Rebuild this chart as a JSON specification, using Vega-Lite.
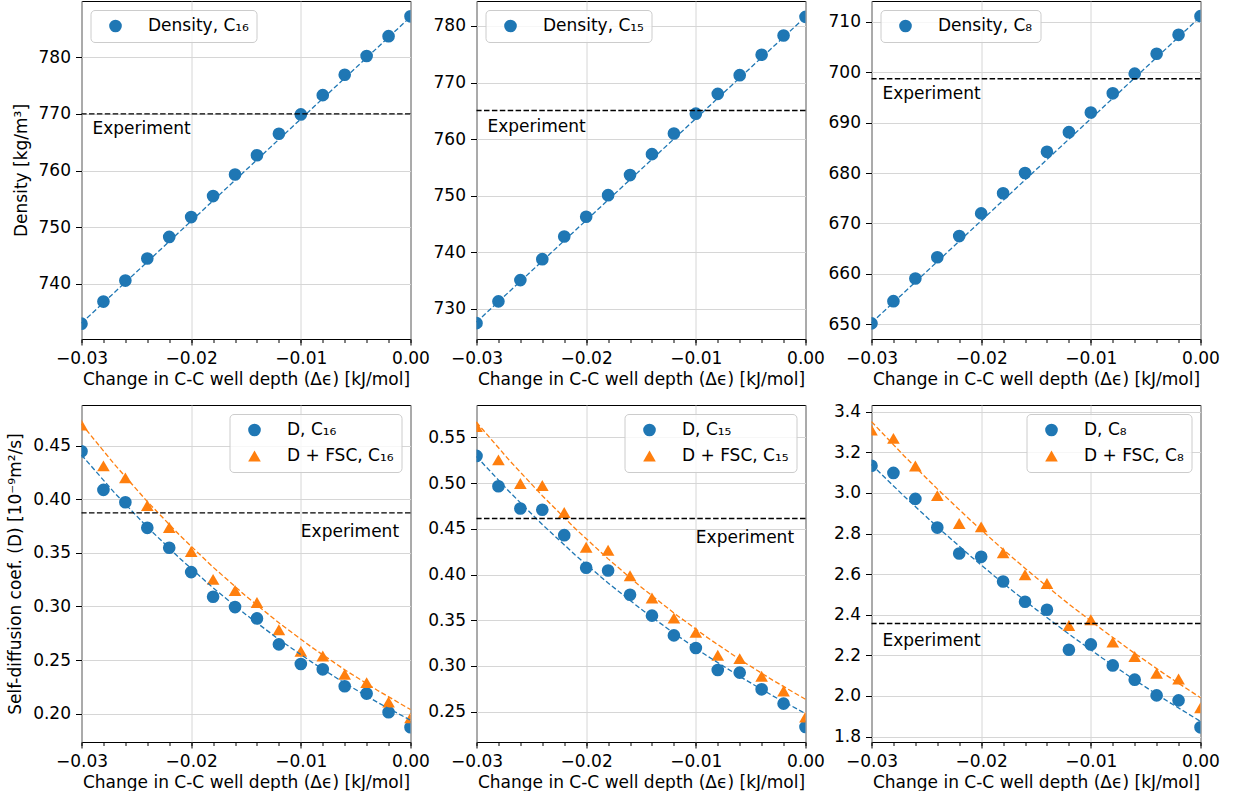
{
  "$schema": "https://vega.github.io/schema/vega-lite/v6.json",
  "padding": {"left": 5.5, "top": 0, "right": 0, "bottom": 0},
  "background": "white",
  "config": {
    "font": "DejaVu Sans",
    "view": {"stroke": "black", "strokeWidth": 1},
    "axis": {
      "labelFont": "DejaVu Sans", "labelFontSize": 17, "labelColor": "black",
      "titleFont": "DejaVu Sans", "titleFontSize": 17, "titleFontWeight": "normal", "titleColor": "black",
      "tickColor": "black", "tickWidth": 1, "tickSize": 6, "labelPadding": 5,
      "domain": false, "gridColor": "#d6d6d6", "gridWidth": 1, "labelFlush": false, "labelOverlap": false
    },
    "axisX": {"titlePadding": 5},
    "axisY": {"titlePadding": 8},
    "legend": {
      "title": null, "labelFont": "DejaVu Sans", "labelFontSize": 17, "labelColor": "black",
      "padding": 7.5, "offset": 9, "strokeColor": "#cccccc", "fillColor": "rgba(255,255,255,0.8)",
      "cornerRadius": 4, "symbolOffset": 9, "labelOffset": 24, "rowPadding": 8,
      "symbolSize": 160, "symbolStrokeWidth": 0
    },
    "text": {"font": "DejaVu Sans"}
  },
  "datasets": {
    "pts": [
      {"p":"a","x":-0.030,"y":733.0,"s":"Density, C₁₆"},{"p":"a","x":-0.028,"y":736.9,"s":"Density, C₁₆"},{"p":"a","x":-0.026,"y":740.6,"s":"Density, C₁₆"},{"p":"a","x":-0.024,"y":744.5,"s":"Density, C₁₆"},{"p":"a","x":-0.022,"y":748.3,"s":"Density, C₁₆"},{"p":"a","x":-0.020,"y":751.8,"s":"Density, C₁₆"},{"p":"a","x":-0.018,"y":755.5,"s":"Density, C₁₆"},{"p":"a","x":-0.016,"y":759.3,"s":"Density, C₁₆"},{"p":"a","x":-0.014,"y":762.7,"s":"Density, C₁₆"},{"p":"a","x":-0.012,"y":766.5,"s":"Density, C₁₆"},{"p":"a","x":-0.010,"y":769.9,"s":"Density, C₁₆"},{"p":"a","x":-0.008,"y":773.3,"s":"Density, C₁₆"},{"p":"a","x":-0.006,"y":776.9,"s":"Density, C₁₆"},{"p":"a","x":-0.004,"y":780.2,"s":"Density, C₁₆"},{"p":"a","x":-0.002,"y":783.7,"s":"Density, C₁₆"},{"p":"a","x":0.0,"y":787.2,"s":"Density, C₁₆"},
      {"p":"b","x":-0.030,"y":727.5,"s":"Density, C₁₅"},{"p":"b","x":-0.028,"y":731.35,"s":"Density, C₁₅"},{"p":"b","x":-0.026,"y":735.1,"s":"Density, C₁₅"},{"p":"b","x":-0.024,"y":738.8,"s":"Density, C₁₅"},{"p":"b","x":-0.022,"y":742.8,"s":"Density, C₁₅"},{"p":"b","x":-0.020,"y":746.3,"s":"Density, C₁₅"},{"p":"b","x":-0.018,"y":750.1,"s":"Density, C₁₅"},{"p":"b","x":-0.016,"y":753.65,"s":"Density, C₁₅"},{"p":"b","x":-0.014,"y":757.35,"s":"Density, C₁₅"},{"p":"b","x":-0.012,"y":761.0,"s":"Density, C₁₅"},{"p":"b","x":-0.010,"y":764.5,"s":"Density, C₁₅"},{"p":"b","x":-0.008,"y":768.0,"s":"Density, C₁₅"},{"p":"b","x":-0.006,"y":771.3,"s":"Density, C₁₅"},{"p":"b","x":-0.004,"y":774.9,"s":"Density, C₁₅"},{"p":"b","x":-0.002,"y":778.3,"s":"Density, C₁₅"},{"p":"b","x":0.0,"y":781.6,"s":"Density, C₁₅"},
      {"p":"c","x":-0.030,"y":650.2,"s":"Density, C₈"},{"p":"c","x":-0.028,"y":654.6,"s":"Density, C₈"},{"p":"c","x":-0.026,"y":659.1,"s":"Density, C₈"},{"p":"c","x":-0.024,"y":663.3,"s":"Density, C₈"},{"p":"c","x":-0.022,"y":667.5,"s":"Density, C₈"},{"p":"c","x":-0.020,"y":672.0,"s":"Density, C₈"},{"p":"c","x":-0.018,"y":676.0,"s":"Density, C₈"},{"p":"c","x":-0.016,"y":680.0,"s":"Density, C₈"},{"p":"c","x":-0.014,"y":684.2,"s":"Density, C₈"},{"p":"c","x":-0.012,"y":688.1,"s":"Density, C₈"},{"p":"c","x":-0.010,"y":692.0,"s":"Density, C₈"},{"p":"c","x":-0.008,"y":695.8,"s":"Density, C₈"},{"p":"c","x":-0.006,"y":699.7,"s":"Density, C₈"},{"p":"c","x":-0.004,"y":703.65,"s":"Density, C₈"},{"p":"c","x":-0.002,"y":707.4,"s":"Density, C₈"},{"p":"c","x":0.0,"y":711.1,"s":"Density, C₈"},
      {"p":"d","x":-0.030,"y":0.4447,"s":"D, C₁₆"},{"p":"d","x":-0.028,"y":0.4087,"s":"D, C₁₆"},{"p":"d","x":-0.026,"y":0.3972,"s":"D, C₁₆"},{"p":"d","x":-0.024,"y":0.3733,"s":"D, C₁₆"},{"p":"d","x":-0.022,"y":0.3547,"s":"D, C₁₆"},{"p":"d","x":-0.020,"y":0.332,"s":"D, C₁₆"},{"p":"d","x":-0.018,"y":0.309,"s":"D, C₁₆"},{"p":"d","x":-0.016,"y":0.2994,"s":"D, C₁₆"},{"p":"d","x":-0.014,"y":0.2888,"s":"D, C₁₆"},{"p":"d","x":-0.012,"y":0.2646,"s":"D, C₁₆"},{"p":"d","x":-0.010,"y":0.2463,"s":"D, C₁₆"},{"p":"d","x":-0.008,"y":0.2413,"s":"D, C₁₆"},{"p":"d","x":-0.006,"y":0.2255,"s":"D, C₁₆"},{"p":"d","x":-0.004,"y":0.2187,"s":"D, C₁₆"},{"p":"d","x":-0.002,"y":0.2013,"s":"D, C₁₆"},{"p":"d","x":0.0,"y":0.1873,"s":"D, C₁₆"},
      {"p":"d","x":-0.030,"y":0.4693,"s":"D + FSC, C₁₆"},{"p":"d","x":-0.028,"y":0.4311,"s":"D + FSC, C₁₆"},{"p":"d","x":-0.026,"y":0.4199,"s":"D + FSC, C₁₆"},{"p":"d","x":-0.024,"y":0.3941,"s":"D + FSC, C₁₆"},{"p":"d","x":-0.022,"y":0.3736,"s":"D + FSC, C₁₆"},{"p":"d","x":-0.020,"y":0.3512,"s":"D + FSC, C₁₆"},{"p":"d","x":-0.018,"y":0.3252,"s":"D + FSC, C₁₆"},{"p":"d","x":-0.016,"y":0.3149,"s":"D + FSC, C₁₆"},{"p":"d","x":-0.014,"y":0.3037,"s":"D + FSC, C₁₆"},{"p":"d","x":-0.012,"y":0.2783,"s":"D + FSC, C₁₆"},{"p":"d","x":-0.010,"y":0.2581,"s":"D + FSC, C₁₆"},{"p":"d","x":-0.008,"y":0.2537,"s":"D + FSC, C₁₆"},{"p":"d","x":-0.006,"y":0.2367,"s":"D + FSC, C₁₆"},{"p":"d","x":-0.004,"y":0.2289,"s":"D + FSC, C₁₆"},{"p":"d","x":-0.002,"y":0.2109,"s":"D + FSC, C₁₆"},{"p":"d","x":0.0,"y":0.196,"s":"D + FSC, C₁₆"},
      {"p":"e","x":-0.030,"y":0.5297,"s":"D, C₁₅"},{"p":"e","x":-0.028,"y":0.4965,"s":"D, C₁₅"},{"p":"e","x":-0.026,"y":0.4722,"s":"D, C₁₅"},{"p":"e","x":-0.024,"y":0.4708,"s":"D, C₁₅"},{"p":"e","x":-0.022,"y":0.443,"s":"D, C₁₅"},{"p":"e","x":-0.020,"y":0.4074,"s":"D, C₁₅"},{"p":"e","x":-0.018,"y":0.4044,"s":"D, C₁₅"},{"p":"e","x":-0.016,"y":0.3779,"s":"D, C₁₅"},{"p":"e","x":-0.014,"y":0.355,"s":"D, C₁₅"},{"p":"e","x":-0.012,"y":0.3334,"s":"D, C₁₅"},{"p":"e","x":-0.010,"y":0.3196,"s":"D, C₁₅"},{"p":"e","x":-0.008,"y":0.2955,"s":"D, C₁₅"},{"p":"e","x":-0.006,"y":0.2927,"s":"D, C₁₅"},{"p":"e","x":-0.004,"y":0.2744,"s":"D, C₁₅"},{"p":"e","x":-0.002,"y":0.2588,"s":"D, C₁₅"},{"p":"e","x":0.0,"y":0.2333,"s":"D, C₁₅"},
      {"p":"e","x":-0.030,"y":0.5618,"s":"D + FSC, C₁₅"},{"p":"e","x":-0.028,"y":0.5254,"s":"D + FSC, C₁₅"},{"p":"e","x":-0.026,"y":0.4995,"s":"D + FSC, C₁₅"},{"p":"e","x":-0.024,"y":0.4973,"s":"D + FSC, C₁₅"},{"p":"e","x":-0.022,"y":0.4678,"s":"D + FSC, C₁₅"},{"p":"e","x":-0.020,"y":0.4299,"s":"D + FSC, C₁₅"},{"p":"e","x":-0.018,"y":0.4266,"s":"D + FSC, C₁₅"},{"p":"e","x":-0.016,"y":0.3987,"s":"D + FSC, C₁₅"},{"p":"e","x":-0.014,"y":0.3742,"s":"D + FSC, C₁₅"},{"p":"e","x":-0.012,"y":0.3523,"s":"D + FSC, C₁₅"},{"p":"e","x":-0.010,"y":0.3367,"s":"D + FSC, C₁₅"},{"p":"e","x":-0.008,"y":0.3116,"s":"D + FSC, C₁₅"},{"p":"e","x":-0.006,"y":0.308,"s":"D + FSC, C₁₅"},{"p":"e","x":-0.004,"y":0.2887,"s":"D + FSC, C₁₅"},{"p":"e","x":-0.002,"y":0.2726,"s":"D + FSC, C₁₅"},{"p":"e","x":0.0,"y":0.2442,"s":"D + FSC, C₁₅"},
      {"p":"f","x":-0.030,"y":3.134,"s":"D, C₈"},{"p":"f","x":-0.028,"y":3.0985,"s":"D, C₈"},{"p":"f","x":-0.026,"y":2.9706,"s":"D, C₈"},{"p":"f","x":-0.024,"y":2.8294,"s":"D, C₈"},{"p":"f","x":-0.022,"y":2.7015,"s":"D, C₈"},{"p":"f","x":-0.020,"y":2.6853,"s":"D, C₈"},{"p":"f","x":-0.018,"y":2.5638,"s":"D, C₈"},{"p":"f","x":-0.016,"y":2.4639,"s":"D, C₈"},{"p":"f","x":-0.014,"y":2.4246,"s":"D, C₈"},{"p":"f","x":-0.012,"y":2.2278,"s":"D, C₈"},{"p":"f","x":-0.010,"y":2.2539,"s":"D, C₈"},{"p":"f","x":-0.008,"y":2.1506,"s":"D, C₈"},{"p":"f","x":-0.006,"y":2.0803,"s":"D, C₈"},{"p":"f","x":-0.004,"y":2.003,"s":"D, C₈"},{"p":"f","x":-0.002,"y":1.9785,"s":"D, C₈"},{"p":"f","x":0.0,"y":1.8456,"s":"D, C₈"},
      {"p":"f","x":-0.030,"y":3.31,"s":"D + FSC, C₈"},{"p":"f","x":-0.028,"y":3.2687,"s":"D + FSC, C₈"},{"p":"f","x":-0.026,"y":3.1329,"s":"D + FSC, C₈"},{"p":"f","x":-0.024,"y":2.9868,"s":"D + FSC, C₈"},{"p":"f","x":-0.022,"y":2.8491,"s":"D + FSC, C₈"},{"p":"f","x":-0.020,"y":2.8329,"s":"D + FSC, C₈"},{"p":"f","x":-0.018,"y":2.705,"s":"D + FSC, C₈"},{"p":"f","x":-0.016,"y":2.5968,"s":"D + FSC, C₈"},{"p":"f","x":-0.014,"y":2.554,"s":"D + FSC, C₈"},{"p":"f","x":-0.012,"y":2.3474,"s":"D + FSC, C₈"},{"p":"f","x":-0.010,"y":2.3754,"s":"D + FSC, C₈"},{"p":"f","x":-0.008,"y":2.2652,"s":"D + FSC, C₈"},{"p":"f","x":-0.006,"y":2.1949,"s":"D + FSC, C₈"},{"p":"f","x":-0.004,"y":2.1113,"s":"D + FSC, C₈"},{"p":"f","x":-0.002,"y":2.0832,"s":"D + FSC, C₈"},{"p":"f","x":0.0,"y":1.9425,"s":"D + FSC, C₈"}
    ],
    "fit": [
      {"p":"a","x":-0.03,"y":733.1,"s":"D"},{"p":"a","x":0.0,"y":787.1,"s":"D"},
      {"p":"b","x":-0.03,"y":727.7,"s":"D"},{"p":"b","x":0.0,"y":781.6,"s":"D"},
      {"p":"c","x":-0.03,"y":650.3,"s":"D"},{"p":"c","x":0.0,"y":711.0,"s":"D"},
      {"p":"d","x":-0.030,"y":0.4413,"s":"D"},{"p":"d","x":-0.027,"y":0.4061,"s":"D"},{"p":"d","x":-0.024,"y":0.3740,"s":"D"},{"p":"d","x":-0.021,"y":0.3445,"s":"D"},{"p":"d","x":-0.018,"y":0.3173,"s":"D"},{"p":"d","x":-0.015,"y":0.2923,"s":"D"},{"p":"d","x":-0.012,"y":0.2692,"s":"D"},{"p":"d","x":-0.009,"y":0.2480,"s":"D"},{"p":"d","x":-0.006,"y":0.2284,"s":"D"},{"p":"d","x":-0.003,"y":0.2104,"s":"D"},{"p":"d","x":0.0,"y":0.1938,"s":"D"},
      {"p":"d","x":-0.030,"y":0.4702,"s":"F"},{"p":"d","x":-0.027,"y":0.4326,"s":"F"},{"p":"d","x":-0.024,"y":0.3978,"s":"F"},{"p":"d","x":-0.021,"y":0.3659,"s":"F"},{"p":"d","x":-0.018,"y":0.3366,"s":"F"},{"p":"d","x":-0.015,"y":0.3096,"s":"F"},{"p":"d","x":-0.012,"y":0.2847,"s":"F"},{"p":"d","x":-0.009,"y":0.2619,"s":"F"},{"p":"d","x":-0.006,"y":0.2409,"s":"F"},{"p":"d","x":-0.003,"y":0.2216,"s":"F"},{"p":"d","x":0.0,"y":0.2038,"s":"F"},
      {"p":"e","x":-0.030,"y":0.529,"s":"D"},{"p":"e","x":-0.027,"y":0.4905,"s":"D"},{"p":"e","x":-0.024,"y":0.4547,"s":"D"},{"p":"e","x":-0.021,"y":0.4214,"s":"D"},{"p":"e","x":-0.018,"y":0.3907,"s":"D"},{"p":"e","x":-0.015,"y":0.3622,"s":"D"},{"p":"e","x":-0.012,"y":0.3357,"s":"D"},{"p":"e","x":-0.009,"y":0.3112,"s":"D"},{"p":"e","x":-0.006,"y":0.2885,"s":"D"},{"p":"e","x":-0.003,"y":0.2674,"s":"D"},{"p":"e","x":0.0,"y":0.2479,"s":"D"},
      {"p":"e","x":-0.030,"y":0.5665,"s":"F"},{"p":"e","x":-0.027,"y":0.5248,"s":"F"},{"p":"e","x":-0.024,"y":0.4862,"s":"F"},{"p":"e","x":-0.021,"y":0.4503,"s":"F"},{"p":"e","x":-0.018,"y":0.4171,"s":"F"},{"p":"e","x":-0.015,"y":0.3864,"s":"F"},{"p":"e","x":-0.012,"y":0.3579,"s":"F"},{"p":"e","x":-0.009,"y":0.3315,"s":"F"},{"p":"e","x":-0.006,"y":0.3071,"s":"F"},{"p":"e","x":-0.003,"y":0.2845,"s":"F"},{"p":"e","x":0.0,"y":0.2635,"s":"F"},
      {"p":"f","x":-0.030,"y":3.140,"s":"D"},{"p":"f","x":-0.027,"y":2.9824,"s":"D"},{"p":"f","x":-0.024,"y":2.8326,"s":"D"},{"p":"f","x":-0.021,"y":2.6903,"s":"D"},{"p":"f","x":-0.018,"y":2.5549,"s":"D"},{"p":"f","x":-0.015,"y":2.4266,"s":"D"},{"p":"f","x":-0.012,"y":2.3046,"s":"D"},{"p":"f","x":-0.009,"y":2.1887,"s":"D"},{"p":"f","x":-0.006,"y":2.0786,"s":"D"},{"p":"f","x":-0.003,"y":1.9742,"s":"D"},{"p":"f","x":0.0,"y":1.875,"s":"D"},
      {"p":"f","x":-0.030,"y":3.351,"s":"F"},{"p":"f","x":-0.027,"y":3.1809,"s":"F"},{"p":"f","x":-0.024,"y":3.0198,"s":"F"},{"p":"f","x":-0.021,"y":2.8667,"s":"F"},{"p":"f","x":-0.018,"y":2.7213,"s":"F"},{"p":"f","x":-0.015,"y":2.5835,"s":"F"},{"p":"f","x":-0.012,"y":2.4524,"s":"F"},{"p":"f","x":-0.009,"y":2.3281,"s":"F"},{"p":"f","x":-0.006,"y":2.21,"s":"F"},{"p":"f","x":-0.003,"y":2.098,"s":"F"},{"p":"f","x":0.0,"y":1.9917,"s":"F"}
    ],
    "exp": [
      {"p":"a","y":770.0,"label":"Experiment"},
      {"p":"b","y":765.05,"label":"Experiment"},
      {"p":"c","y":698.7,"label":"Experiment"},
      {"p":"d","y":0.3873,"label":"Experiment"},
      {"p":"e","y":0.4613,"label":"Experiment"},
      {"p":"f","y":2.357,"label":"Experiment"}
    ]
  },
  "columns": 3,
  "spacing": 66,
  "bounds": "flush",
  "resolve": {
    "scale": {"x": "independent", "y": "independent", "color": "independent", "shape": "independent"},
    "legend": {"color": "independent", "shape": "independent"}
  },
  "concat": [
    {
      "width": 329, "height": 338,
      "resolve": {"axis": {"x": "independent"}},
      "layer": [
        {"data": {"name": "pts"}, "transform": [{"filter": "datum.p === 'a'"}],
         "mark": {"type": "point", "filled": true, "size": 160, "opacity": 1, "clip": true},
         "encoding": {
           "x": {"field": "x", "type": "quantitative", "scale": {"domain": [-0.03, 0], "nice": false, "zero": false},
                 "axis": {"orient": "bottom", "values": [-0.03, -0.02, -0.01, 0], "format": ".2f", "title": "Change in C-C well depth (Δϵ) [kJ/mol]"}},
           "y": {"field": "y", "type": "quantitative", "scale": {"domain": [730.3, 789.9], "nice": false, "zero": false},
                 "axis": {"values": [740, 750, 760, 770, 780], "format": "d", "title": "Density [kg/m³]"}},
           "color": {"field": "s", "type": "nominal", "scale": {"domain": ["Density, C₁₆"], "range": ["#1f77b4"]}, "legend": {"orient": "top-left"}}
         }},
        {"data": {"name": "fit"}, "transform": [{"filter": "datum.p === 'a'"}],
         "mark": {"type": "line", "color": "#1f77b4", "strokeDash": [5, 2.5], "strokeWidth": 1.3},
         "encoding": {"x": {"field": "x", "type": "quantitative",
                            "axis": {"orient": "bottom", "values": [-0.03,-0.028,-0.026,-0.024,-0.022,-0.02,-0.018,-0.016,-0.014,-0.012,-0.01,-0.008,-0.006,-0.004,-0.002,0], "labels": false, "grid": false, "tickSize": 3.5, "title": null}},
                      "y": {"field": "y", "type": "quantitative"}}},
        {"data": {"name": "exp"}, "transform": [{"filter": "datum.p === 'a'"}],
         "mark": {"type": "rule", "color": "black", "strokeDash": [5.5, 2.4], "strokeWidth": 1.4},
         "encoding": {"y": {"field": "y", "type": "quantitative"}}},
        {"data": {"name": "exp"}, "transform": [{"filter": "datum.p === 'a'"}],
         "mark": {"type": "text", "align": "left", "baseline": "middle", "fontSize": 17, "color": "black"},
         "encoding": {"x": {"datum": -0.029, "axis": null}, "y": {"datum": 767.3}, "text": {"field": "label"}}}
      ]
    },
    {
      "width": 329, "height": 338,
      "resolve": {"axis": {"x": "independent"}},
      "layer": [
        {"data": {"name": "pts"}, "transform": [{"filter": "datum.p === 'b'"}],
         "mark": {"type": "point", "filled": true, "size": 160, "opacity": 1, "clip": true},
         "encoding": {
           "x": {"field": "x", "type": "quantitative", "scale": {"domain": [-0.03, 0], "nice": false, "zero": false},
                 "axis": {"orient": "bottom", "values": [-0.03, -0.02, -0.01, 0], "format": ".2f", "title": "Change in C-C well depth (Δϵ) [kJ/mol]"}},
           "y": {"field": "y", "type": "quantitative", "scale": {"domain": [724.7, 784.4], "nice": false, "zero": false},
                 "axis": {"values": [730, 740, 750, 760, 770, 780], "format": "d", "title": null}},
           "color": {"field": "s", "type": "nominal", "scale": {"domain": ["Density, C₁₅"], "range": ["#1f77b4"]}, "legend": {"orient": "top-left"}}
         }},
        {"data": {"name": "fit"}, "transform": [{"filter": "datum.p === 'b'"}],
         "mark": {"type": "line", "color": "#1f77b4", "strokeDash": [5, 2.5], "strokeWidth": 1.3},
         "encoding": {"x": {"field": "x", "type": "quantitative",
                            "axis": {"orient": "bottom", "values": [-0.03,-0.028,-0.026,-0.024,-0.022,-0.02,-0.018,-0.016,-0.014,-0.012,-0.01,-0.008,-0.006,-0.004,-0.002,0], "labels": false, "grid": false, "tickSize": 3.5, "title": null}},
                      "y": {"field": "y", "type": "quantitative"}}},
        {"data": {"name": "exp"}, "transform": [{"filter": "datum.p === 'b'"}],
         "mark": {"type": "rule", "color": "black", "strokeDash": [5.5, 2.4], "strokeWidth": 1.4},
         "encoding": {"y": {"field": "y", "type": "quantitative"}}},
        {"data": {"name": "exp"}, "transform": [{"filter": "datum.p === 'b'"}],
         "mark": {"type": "text", "align": "left", "baseline": "middle", "fontSize": 17, "color": "black"},
         "encoding": {"x": {"datum": -0.029, "axis": null}, "y": {"datum": 762.2}, "text": {"field": "label"}}}
      ]
    },
    {
      "width": 329, "height": 338,
      "resolve": {"axis": {"x": "independent"}},
      "layer": [
        {"data": {"name": "pts"}, "transform": [{"filter": "datum.p === 'c'"}],
         "mark": {"type": "point", "filled": true, "size": 160, "opacity": 1, "clip": true},
         "encoding": {
           "x": {"field": "x", "type": "quantitative", "scale": {"domain": [-0.03, 0], "nice": false, "zero": false},
                 "axis": {"orient": "bottom", "values": [-0.03, -0.02, -0.01, 0], "format": ".2f", "title": "Change in C-C well depth (Δϵ) [kJ/mol]"}},
           "y": {"field": "y", "type": "quantitative", "scale": {"domain": [647.1, 714.1], "nice": false, "zero": false},
                 "axis": {"values": [650, 660, 670, 680, 690, 700, 710], "format": "d", "title": null}},
           "color": {"field": "s", "type": "nominal", "scale": {"domain": ["Density, C₈"], "range": ["#1f77b4"]}, "legend": {"orient": "top-left"}}
         }},
        {"data": {"name": "fit"}, "transform": [{"filter": "datum.p === 'c'"}],
         "mark": {"type": "line", "color": "#1f77b4", "strokeDash": [5, 2.5], "strokeWidth": 1.3},
         "encoding": {"x": {"field": "x", "type": "quantitative",
                            "axis": {"orient": "bottom", "values": [-0.03,-0.028,-0.026,-0.024,-0.022,-0.02,-0.018,-0.016,-0.014,-0.012,-0.01,-0.008,-0.006,-0.004,-0.002,0], "labels": false, "grid": false, "tickSize": 3.5, "title": null}},
                      "y": {"field": "y", "type": "quantitative"}}},
        {"data": {"name": "exp"}, "transform": [{"filter": "datum.p === 'c'"}],
         "mark": {"type": "rule", "color": "black", "strokeDash": [5.5, 2.4], "strokeWidth": 1.4},
         "encoding": {"y": {"field": "y", "type": "quantitative"}}},
        {"data": {"name": "exp"}, "transform": [{"filter": "datum.p === 'c'"}],
         "mark": {"type": "text", "align": "left", "baseline": "middle", "fontSize": 17, "color": "black"},
         "encoding": {"x": {"datum": -0.029, "axis": null}, "y": {"datum": 695.6}, "text": {"field": "label"}}}
      ]
    },
    {
      "width": 329, "height": 337,
      "resolve": {"axis": {"x": "independent"}},
      "layer": [
        {"data": {"name": "pts"}, "transform": [{"filter": "datum.p === 'd'"}],
         "mark": {"type": "point", "filled": true, "size": 160, "opacity": 1, "clip": true},
         "encoding": {
           "x": {"field": "x", "type": "quantitative", "scale": {"domain": [-0.03, 0], "nice": false, "zero": false},
                 "axis": {"orient": "bottom", "values": [-0.03, -0.02, -0.01, 0], "format": ".2f", "title": "Change in C-C well depth (Δϵ) [kJ/mol]"}},
           "y": {"field": "y", "type": "quantitative", "scale": {"domain": [0.1735, 0.4879], "nice": false, "zero": false},
                 "axis": {"values": [0.2, 0.25, 0.3, 0.35, 0.4, 0.45], "format": ".2f", "title": "Self-diffusion coef. (D) [10⁻⁹m²/s]"}},
           "color": {"field": "s", "type": "nominal", "scale": {"domain": ["D, C₁₆", "D + FSC, C₁₆"], "range": ["#1f77b4", "#ff7f0e"]}, "legend": {"orient": "top-right"}},
           "shape": {"field": "s", "type": "nominal", "scale": {"domain": ["D, C₁₆", "D + FSC, C₁₆"], "range": ["circle", "triangle-up"]}, "legend": {"orient": "top-right"}}
         }},
        {"data": {"name": "fit"}, "transform": [{"filter": "datum.p === 'd' && datum.s === 'D'"}],
         "mark": {"type": "line", "color": "#1f77b4", "strokeDash": [5, 2.5], "strokeWidth": 1.3},
         "encoding": {"x": {"field": "x", "type": "quantitative",
                            "axis": {"orient": "bottom", "values": [-0.03,-0.028,-0.026,-0.024,-0.022,-0.02,-0.018,-0.016,-0.014,-0.012,-0.01,-0.008,-0.006,-0.004,-0.002,0], "labels": false, "grid": false, "tickSize": 3.5, "title": null}},
                      "y": {"field": "y", "type": "quantitative"}}},
        {"data": {"name": "fit"}, "transform": [{"filter": "datum.p === 'd' && datum.s === 'F'"}],
         "mark": {"type": "line", "color": "#ff7f0e", "strokeDash": [5, 2.5], "strokeWidth": 1.3},
         "encoding": {"x": {"field": "x", "type": "quantitative", "axis": null}, "y": {"field": "y", "type": "quantitative"}}},
        {"data": {"name": "exp"}, "transform": [{"filter": "datum.p === 'd'"}],
         "mark": {"type": "rule", "color": "black", "strokeDash": [5.5, 2.4], "strokeWidth": 1.4},
         "encoding": {"y": {"field": "y", "type": "quantitative"}}},
        {"data": {"name": "exp"}, "transform": [{"filter": "datum.p === 'd'"}],
         "mark": {"type": "text", "align": "left", "baseline": "middle", "fontSize": 17, "color": "black"},
         "encoding": {"x": {"datum": -0.01, "axis": null}, "y": {"datum": 0.3692}, "text": {"field": "label"}}}
      ]
    },
    {
      "width": 329, "height": 337,
      "resolve": {"axis": {"x": "independent"}},
      "layer": [
        {"data": {"name": "pts"}, "transform": [{"filter": "datum.p === 'e'"}],
         "mark": {"type": "point", "filled": true, "size": 160, "opacity": 1, "clip": true},
         "encoding": {
           "x": {"field": "x", "type": "quantitative", "scale": {"domain": [-0.03, 0], "nice": false, "zero": false},
                 "axis": {"orient": "bottom", "values": [-0.03, -0.02, -0.01, 0], "format": ".2f", "title": "Change in C-C well depth (Δϵ) [kJ/mol]"}},
           "y": {"field": "y", "type": "quantitative", "scale": {"domain": [0.2168, 0.5854], "nice": false, "zero": false},
                 "axis": {"values": [0.25, 0.3, 0.35, 0.4, 0.45, 0.5, 0.55], "format": ".2f", "title": null}},
           "color": {"field": "s", "type": "nominal", "scale": {"domain": ["D, C₁₅", "D + FSC, C₁₅"], "range": ["#1f77b4", "#ff7f0e"]}, "legend": {"orient": "top-right"}},
           "shape": {"field": "s", "type": "nominal", "scale": {"domain": ["D, C₁₅", "D + FSC, C₁₅"], "range": ["circle", "triangle-up"]}, "legend": {"orient": "top-right"}}
         }},
        {"data": {"name": "fit"}, "transform": [{"filter": "datum.p === 'e' && datum.s === 'D'"}],
         "mark": {"type": "line", "color": "#1f77b4", "strokeDash": [5, 2.5], "strokeWidth": 1.3},
         "encoding": {"x": {"field": "x", "type": "quantitative",
                            "axis": {"orient": "bottom", "values": [-0.03,-0.028,-0.026,-0.024,-0.022,-0.02,-0.018,-0.016,-0.014,-0.012,-0.01,-0.008,-0.006,-0.004,-0.002,0], "labels": false, "grid": false, "tickSize": 3.5, "title": null}},
                      "y": {"field": "y", "type": "quantitative"}}},
        {"data": {"name": "fit"}, "transform": [{"filter": "datum.p === 'e' && datum.s === 'F'"}],
         "mark": {"type": "line", "color": "#ff7f0e", "strokeDash": [5, 2.5], "strokeWidth": 1.3},
         "encoding": {"x": {"field": "x", "type": "quantitative", "axis": null}, "y": {"field": "y", "type": "quantitative"}}},
        {"data": {"name": "exp"}, "transform": [{"filter": "datum.p === 'e'"}],
         "mark": {"type": "rule", "color": "black", "strokeDash": [5.5, 2.4], "strokeWidth": 1.4},
         "encoding": {"y": {"field": "y", "type": "quantitative"}}},
        {"data": {"name": "exp"}, "transform": [{"filter": "datum.p === 'e'"}],
         "mark": {"type": "text", "align": "left", "baseline": "middle", "fontSize": 17, "color": "black"},
         "encoding": {"x": {"datum": -0.01, "axis": null}, "y": {"datum": 0.4402}, "text": {"field": "label"}}}
      ]
    },
    {
      "width": 329, "height": 337,
      "resolve": {"axis": {"x": "independent"}},
      "layer": [
        {"data": {"name": "pts"}, "transform": [{"filter": "datum.p === 'f'"}],
         "mark": {"type": "point", "filled": true, "size": 160, "opacity": 1, "clip": true},
         "encoding": {
           "x": {"field": "x", "type": "quantitative", "scale": {"domain": [-0.03, 0], "nice": false, "zero": false},
                 "axis": {"orient": "bottom", "values": [-0.03, -0.02, -0.01, 0], "format": ".2f", "title": "Change in C-C well depth (Δϵ) [kJ/mol]"}},
           "y": {"field": "y", "type": "quantitative", "scale": {"domain": [1.7734, 3.433], "nice": false, "zero": false},
                 "axis": {"values": [1.8, 2.0, 2.2, 2.4, 2.6, 2.8, 3.0, 3.2, 3.4], "format": ".1f", "title": null}},
           "color": {"field": "s", "type": "nominal", "scale": {"domain": ["D, C₈", "D + FSC, C₈"], "range": ["#1f77b4", "#ff7f0e"]}, "legend": {"orient": "top-right"}},
           "shape": {"field": "s", "type": "nominal", "scale": {"domain": ["D, C₈", "D + FSC, C₈"], "range": ["circle", "triangle-up"]}, "legend": {"orient": "top-right"}}
         }},
        {"data": {"name": "fit"}, "transform": [{"filter": "datum.p === 'f' && datum.s === 'D'"}],
         "mark": {"type": "line", "color": "#1f77b4", "strokeDash": [5, 2.5], "strokeWidth": 1.3},
         "encoding": {"x": {"field": "x", "type": "quantitative",
                            "axis": {"orient": "bottom", "values": [-0.03,-0.028,-0.026,-0.024,-0.022,-0.02,-0.018,-0.016,-0.014,-0.012,-0.01,-0.008,-0.006,-0.004,-0.002,0], "labels": false, "grid": false, "tickSize": 3.5, "title": null}},
                      "y": {"field": "y", "type": "quantitative"}}},
        {"data": {"name": "fit"}, "transform": [{"filter": "datum.p === 'f' && datum.s === 'F'"}],
         "mark": {"type": "line", "color": "#ff7f0e", "strokeDash": [5, 2.5], "strokeWidth": 1.3},
         "encoding": {"x": {"field": "x", "type": "quantitative", "axis": null}, "y": {"field": "y", "type": "quantitative"}}},
        {"data": {"name": "exp"}, "transform": [{"filter": "datum.p === 'f'"}],
         "mark": {"type": "rule", "color": "black", "strokeDash": [5.5, 2.4], "strokeWidth": 1.4},
         "encoding": {"y": {"field": "y", "type": "quantitative"}}},
        {"data": {"name": "exp"}, "transform": [{"filter": "datum.p === 'f'"}],
         "mark": {"type": "text", "align": "left", "baseline": "middle", "fontSize": 17, "color": "black"},
         "encoding": {"x": {"datum": -0.029, "axis": null}, "y": {"datum": 2.2687}, "text": {"field": "label"}}}
      ]
    }
  ]
}
